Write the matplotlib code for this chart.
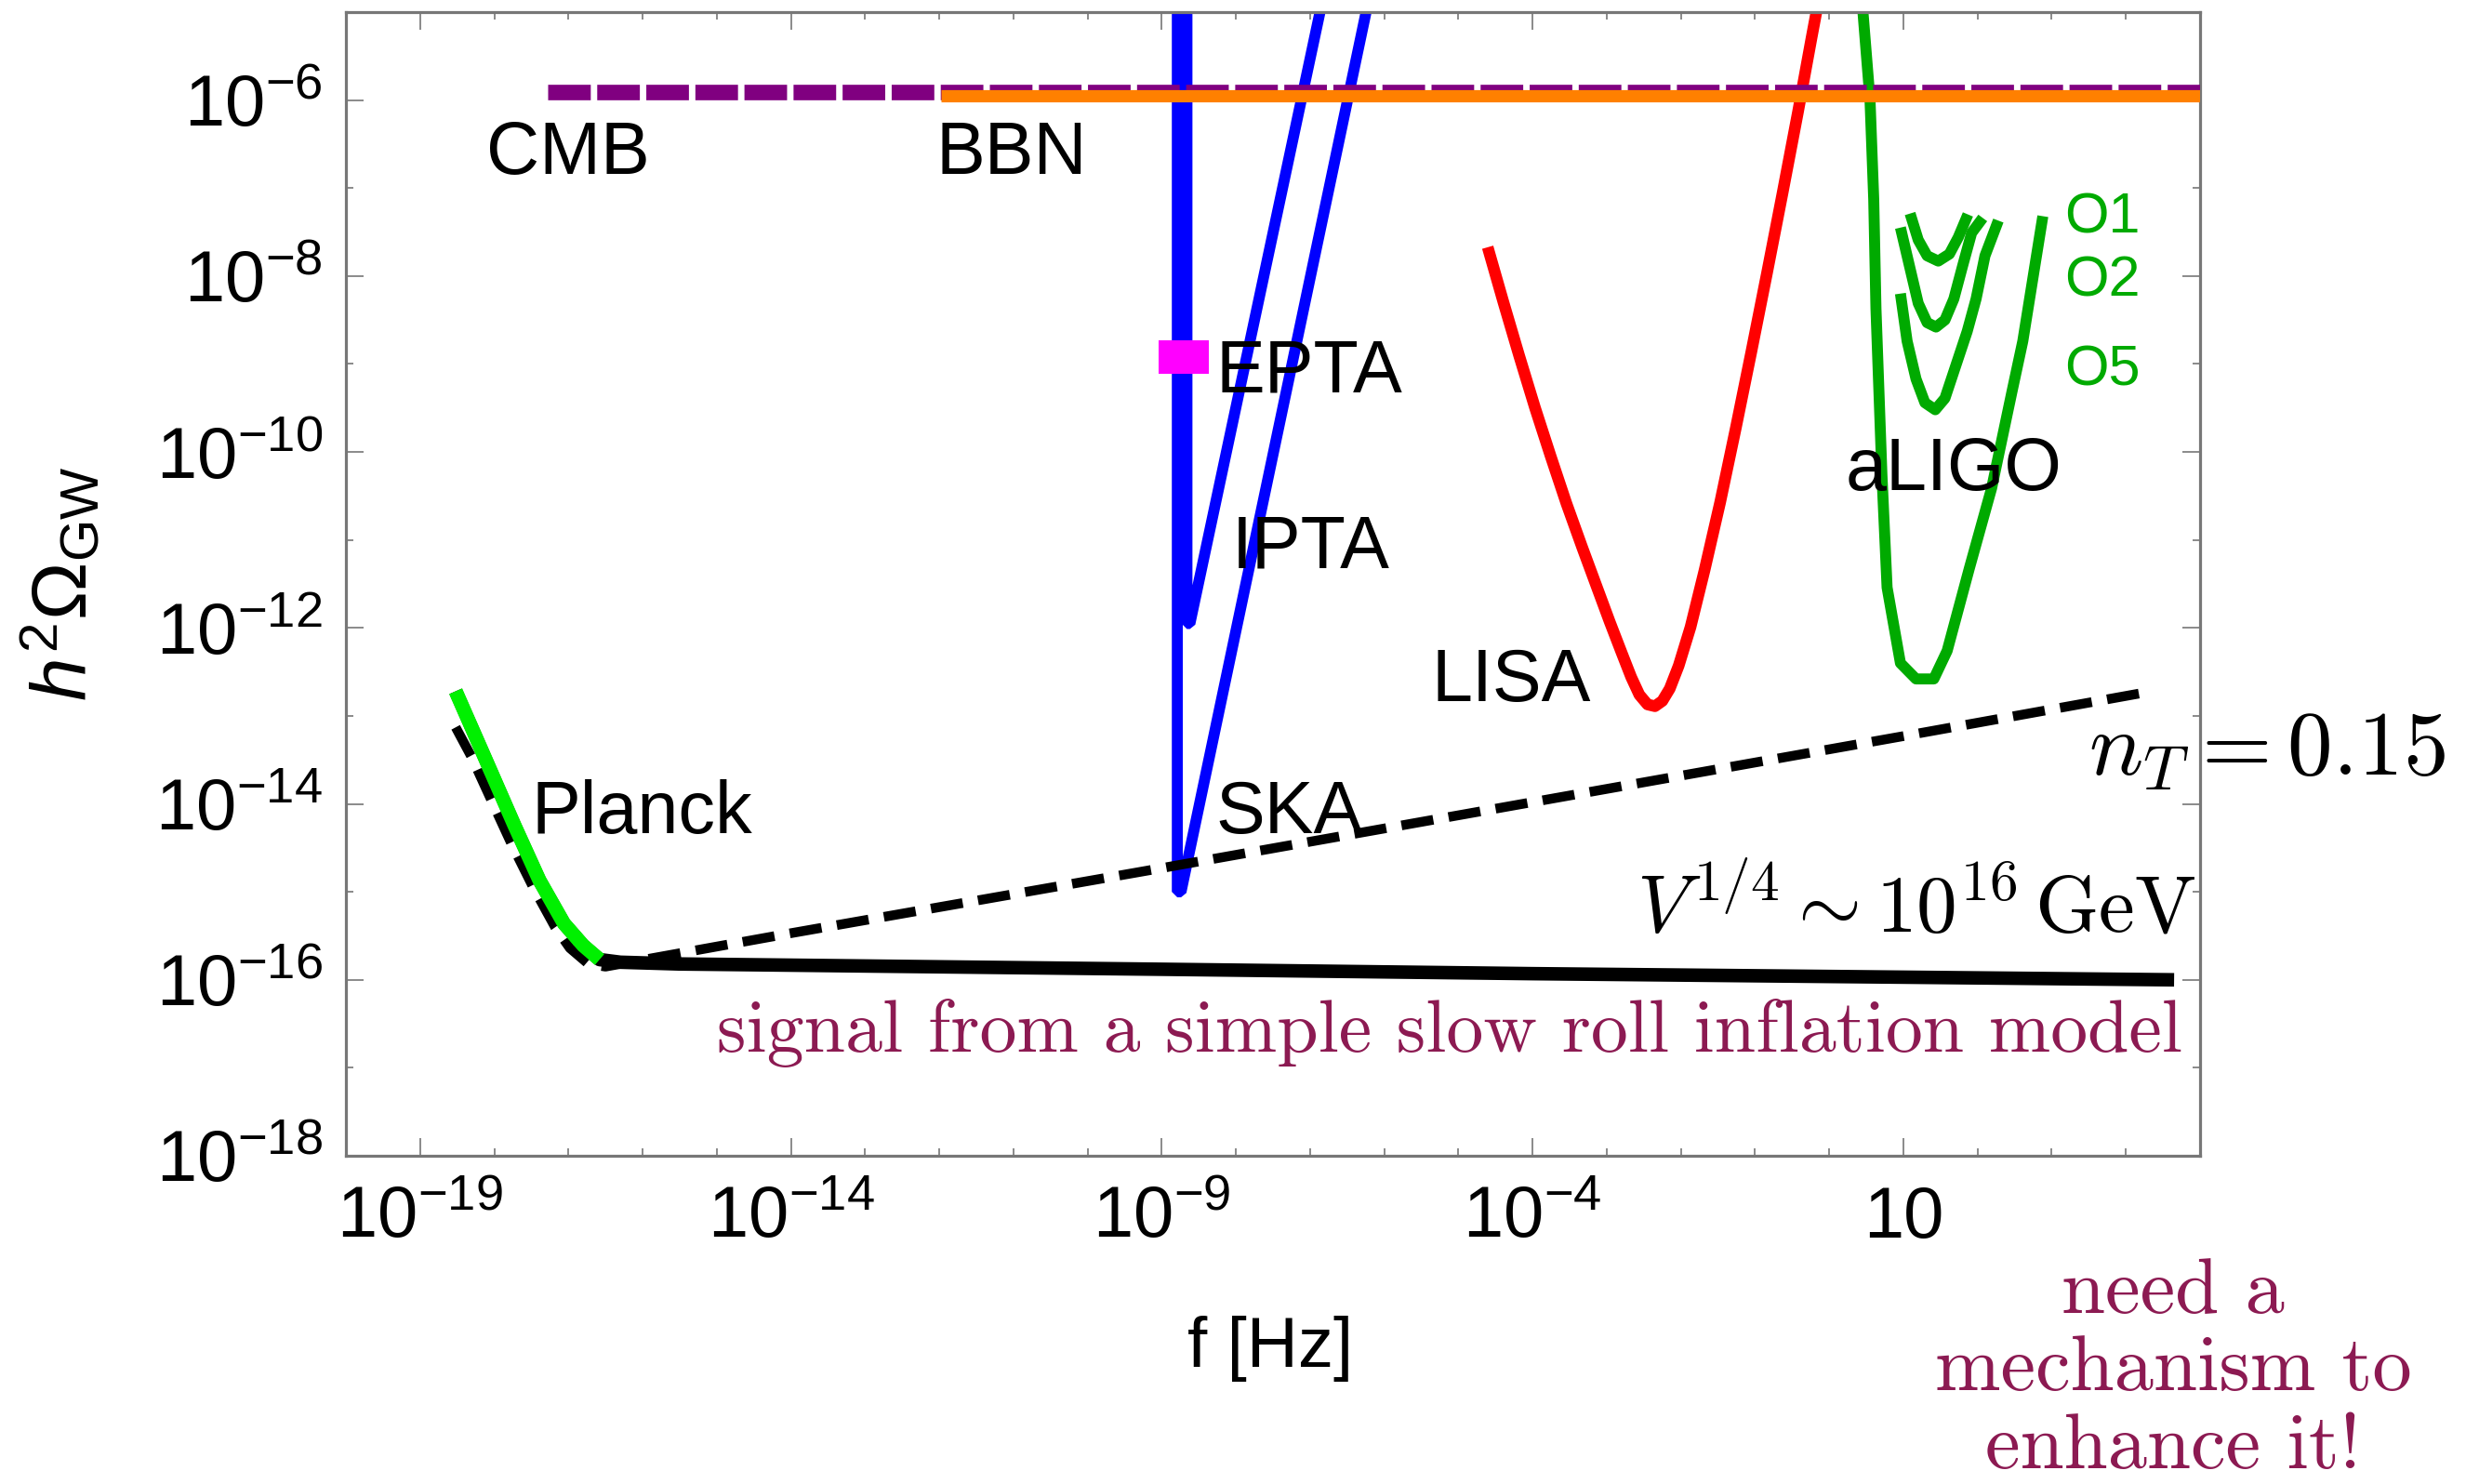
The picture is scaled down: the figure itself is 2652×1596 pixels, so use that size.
import numpy as np
import matplotlib
matplotlib.use("Agg")
import matplotlib.pyplot as plt
from matplotlib.ticker import NullFormatter

plt.rcParams['font.family'] = ['Liberation Sans', 'DejaVu Sans']
plt.rcParams['mathtext.fontset'] = 'custom'
plt.rcParams['mathtext.rm'] = 'Liberation Sans'
plt.rcParams['mathtext.it'] = 'Liberation Sans:italic'
plt.rcParams['mathtext.bf'] = 'Liberation Sans:bold'
plt.rcParams['lines.scale_dashes'] = False

# --- data (log10 of frequency in Hz, log10 of h^2 Omega_GW) ---
cmb_logf = [-17.28, 5.2]
cmb_logo = [-5.91, -5.91]
bbn_logf = [-11.97, 5.2]
bbn_logo = [-5.95, -5.95]

ska_logf = [-8.79, -8.79, -8.74, -6.12]
ska_logo = [-4.0, -15.0, -15.0, -4.5]
ipta_logf = [-8.66, -8.66, -8.62, -6.74]
ipta_logo = [-4.0, -11.95, -11.95, -4.5]
epta_logf = [-9.04, -8.36]
epta_logo = [-8.92, -8.92]

lisa_logf = [-4.605, -4.393, -4.181, -3.968, -3.756, -3.544, -3.331, -3.14,
             -2.96, -2.80, -2.67, -2.56, -2.45, -2.35, -2.25, -2.15, -2.03,
             -1.87, -1.68, -1.47, -1.26, -1.05, -0.84, -0.63, -0.42, -0.24, -0.14]
lisa_logo = [-7.673, -8.298, -8.905, -9.495, -10.048, -10.584, -11.084, -11.52,
             -11.93, -12.28, -12.56, -12.76, -12.87, -12.89, -12.83, -12.69, -12.43,
             -11.99, -11.34, -10.57, -9.73, -8.86, -7.97, -7.06, -6.13, -5.30, -4.85]

ligo_logf = [0.45, 0.55, 0.60, 0.63, 0.71, 0.78, 0.96, 1.17, 1.41, 1.59,
             1.89, 2.19, 2.46, 2.61, 2.88]
ligo_logo = [-4.95, -6.0, -7.13, -8.37, -10.25, -11.54, -12.4, -12.58, -12.58,
             -12.26, -11.32, -10.41, -9.33, -8.74, -7.32]
o1_logf = [1.09, 1.20, 1.32, 1.47, 1.62, 1.74, 1.87]
o1_logo = [-7.29, -7.59, -7.77, -7.83, -7.75, -7.56, -7.30]
o2_logf = [0.96, 1.08, 1.20, 1.32, 1.44, 1.56, 1.68, 1.80, 1.92, 2.07]
o2_logo = [-7.45, -7.88, -8.31, -8.53, -8.58, -8.50, -8.26, -7.88, -7.51, -7.34]
o5_logf = [0.96, 1.05, 1.17, 1.29, 1.43, 1.56, 1.71, 1.86, 1.98, 2.10, 2.28]
o5_logo = [-8.20, -8.74, -9.17, -9.44, -9.52, -9.39, -9.01, -8.63, -8.26, -7.77, -7.37]

planck_logf = [-18.52, -18.15, -17.73, -17.39, -17.06, -16.80, -16.58]
planck_logo = [-12.72, -13.43, -14.24, -14.87, -15.36, -15.61, -15.77]

# slow-roll signal, n_T ~ 0 (solid) and n_T = 0.15 (dashed)
sr_logf = [-18.52, -18.15, -17.73, -17.39, -17.06, -16.80, -16.58, -16.3,
           -15.5, -14.38, -9.0, -4.0, 1.0, 4.65]
sr_logo = [-12.72, -13.43, -14.24, -14.87, -15.36, -15.61, -15.77, -15.80,
           -15.82, -15.83, -15.88, -15.93, -15.97, -16.0]
nt_logf = [-18.52, -18.31, -18.06, -17.77, -17.48, -17.18, -16.98, -16.73,
           -16.5, -14.0, -9.0, -4.0, 1.0, 4.35]
nt_logo = [-13.13, -13.46, -13.92, -14.45, -14.94, -15.40, -15.64, -15.82,
           -15.85, -15.47, -14.73, -13.98, -13.23, -12.72]


def p(a):
    return 10.0 ** np.asarray(a)


fig = plt.figure(figsize=(26.52, 15.96), dpi=100)
ax = fig.add_axes([0.14027, 0.22118, 0.75189, 0.77068])
ax.set_xscale('log')
ax.set_yscale('log')

ax.plot(p(sr_logf), p(sr_logo), color='black', lw=10.5, solid_capstyle='butt', zorder=3)
ax.plot(p(nt_logf), p(nt_logo), color='black', lw=7.5, dashes=(25, 12),
        dash_capstyle='butt', zorder=3)
ax.plot(p(planck_logf), p(planck_logo), color='#00f000', lw=11, solid_capstyle='butt', zorder=4)

for lf, lo in [(ska_logf, ska_logo), (ipta_logf, ipta_logo)]:
    ax.plot(p(lf), p(lo), color='#0000ff', lw=8.5, solid_joinstyle='bevel',
            solid_capstyle='butt', zorder=2)
ax.plot(p(epta_logf), p(epta_logo), color='#ff00ff', lw=26, solid_capstyle='butt', zorder=5)

ax.plot(p(lisa_logf), p(lisa_logo), color='#ff0000', lw=9, solid_capstyle='butt',
        solid_joinstyle='round', zorder=2)
ax.plot(p(ligo_logf), p(ligo_logo), color='#00aa00', lw=8.5, solid_capstyle='butt', zorder=2)
for lf, lo in [(o1_logf, o1_logo), (o2_logf, o2_logo), (o5_logf, o5_logo)]:
    ax.plot(p(lf), p(lo), color='#00aa00', lw=8.5, solid_capstyle='butt', zorder=2)

ax.plot(p(cmb_logf), p(cmb_logo), color='#800080', lw=12, dashes=(33, 5),
        dash_capstyle='butt', zorder=6)
ax.plot(p(bbn_logf), p(bbn_logo), color='#ff8000', lw=9.5, solid_capstyle='butt', zorder=7)

ax.set_xlim(1e-20, 1e5)
ax.set_ylim(1e-18, 1e-5)

xmaj = [1e-19, 1e-14, 1e-9, 1e-4, 1e1]
xmaj_labels = [r'$10^{-19}$', r'$10^{-14}$', r'$10^{-9}$', r'$10^{-4}$', '10']
ymaj = [10.0 ** e for e in range(-18, -5, 2)]
ymaj_labels = [r'$10^{%d}$' % e for e in range(-18, -5, 2)]
ax.set_xticks(xmaj)
ax.set_xticklabels(xmaj_labels)
ax.set_xticks([10.0 ** e for e in range(-20, 6) if e not in (-19, -14, -9, -4, 1)], minor=True)
ax.set_yticks(ymaj)
ax.set_yticklabels(ymaj_labels)
ax.set_yticks([10.0 ** e for e in range(-17, -4, 2)], minor=True)
ax.xaxis.set_minor_formatter(NullFormatter())
ax.yaxis.set_minor_formatter(NullFormatter())
ax.tick_params(which='both', direction='in', color='#8a8a8a', width=1.4,
               top=True, right=True, labelsize=56)
ax.tick_params(which='major', length=14)
ax.tick_params(which='minor', length=6)
ax.tick_params(axis='x', which='major', pad=22)
ax.tick_params(axis='y', which='major', pad=18)
for s in ax.spines.values():
    s.set_color('#777777')
    s.set_linewidth(2.3)

fs = 57
ax.text(1e-17, 10 ** -6.835, 'CMB', fontsize=fs, ha='center', va='baseline')
ax.text(10 ** -11.03, 10 ** -6.835, 'BBN', fontsize=fs, ha='center', va='baseline')
ax.text(10 ** -8.27, 10 ** -9.32, 'EPTA', fontsize=fs, ha='left', va='baseline')
ax.text(10 ** -8.06, 10 ** -11.31, 'IPTA', fontsize=fs, ha='left', va='baseline')
ax.text(10 ** -8.27, 10 ** -14.33, 'SKA', fontsize=fs, ha='left', va='baseline')
ax.text(10 ** -5.36, 10 ** -12.83, 'LISA', fontsize=fs, ha='left', va='baseline')
ax.text(10 ** 0.22, 10 ** -10.43, 'aLIGO', fontsize=fs, ha='left', va='baseline')
ax.text(10 ** -17.50, 10 ** -14.33, 'Planck', fontsize=fs, ha='left', va='baseline')
for lab, lo in [('O1', -7.51), ('O2', -8.23), ('O5', -9.24)]:
    ax.text(10 ** 3.17, 10 ** lo, lab, fontsize=44, color='#00aa00', ha='left', va='baseline')

W, H = 2652.0, 1596.0
fig.text(2630 / W, 1 - 808 / H, r'$n_T = 0.15$', math_fontfamily='cm', fontsize=70,
         ha='right', va='center')
fig.text(2362 / W, 1 - 977 / H, r'$V^{1/4} \sim 10^{16}\,\mathrm{GeV}$', math_fontfamily='cm',
         fontsize=63, ha='right', va='center')
purple = '#8c1a52'
fig.text(2347 / W, 1 - 1111 / H, 'signal from a simple slow roll inflation model',
         family='cmr10', fontsize=57.5, color=purple, ha='right', va='center')
fig.text(2337 / W, 1 - 1474 / H, 'need a\nmechanism to\nenhance it!',
         family='cmr10', fontsize=61, color=purple, ha='center', va='center',
         multialignment='center', linespacing=1.15)

fig.text(1366 / W, 1 - 1451 / H, 'f [Hz]', fontsize=55, ha='center', va='center')
fig.text(66 / W, 1 - 628 / H, r'$h^2\Omega_{\mathrm{GW}}$', fontsize=60, rotation=90,
         ha='center', va='center')

fig.savefig('out.png', dpi=100)
